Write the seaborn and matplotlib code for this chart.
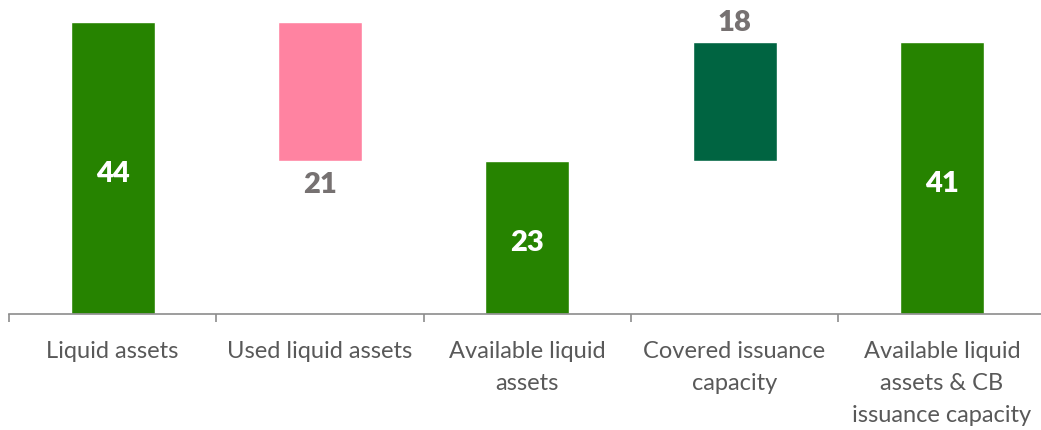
import matplotlib
matplotlib.use("Agg")
import matplotlib.pyplot as plt
import seaborn as sns
import pandas as pd
import numpy as np

categories = ["Liquid assets", "Used liquid assets", "Available liquid\nassets",
              "Covered issuance\ncapacity", "Available liquid\nassets & CB\nissuance capacity"]
values = [44, -21, 23, 18, 41]
kinds = ["total", "delta", "total", "delta", "total"]
bar_colors = ["#268300", "#FF83A1", "#268300", "#006441", "#268300"]
label_colors = ["white", "#767171", "white", "#767171", "white"]
label_pos = ["mid", "below", "mid", "above", "mid"]

# waterfall bases/tops
bases, tops = [], []
running = 0
for v, k in zip(values, kinds):
    if k == "total":
        b, t = 0, v
        running = v
    else:
        b, t = min(running, running + v), max(running, running + v)
        running += v
    bases.append(b)
    tops.append(t)

df = pd.DataFrame({"category": categories, "top": tops, "base": bases})

sns.set_theme(style="white")
plt.rcParams["font.family"] = ["Lato", "DejaVu Sans"]

fig = plt.figure(figsize=(10.41, 4.31), dpi=100)
W, H = 1041, 431
x0, x1 = 9, 1045.5
y_axis = 315
ylim_top = 47
px_per_unit = (315 - 23) / 44
ax = fig.add_axes([x0 / W, (H - y_axis) / H, (x1 - x0) / W, ylim_top * px_per_unit / H])

sns.barplot(data=df, x="category", y="top", hue="category", palette=bar_colors,
            width=0.405, legend=False, ax=ax, saturation=1)
sns.barplot(data=df, x="category", y="base", color="white", width=0.42,
            ax=ax, saturation=1)

ax.set_xlim(-0.5, 4.5)
ax.set_ylim(0, ylim_top)
ax.set_xlabel("")
ax.set_ylabel("")
ax.set_yticks([])
for s in ["top", "right", "left"]:
    ax.spines[s].set_visible(False)
ax.spines["bottom"].set_color("#8c8c8c")
ax.spines["bottom"].set_linewidth(1.2)

ax.set_xticks(range(len(categories)))
ax.set_xticklabels(categories, fontsize=17, color="#595959", linespacing=1.65, va="top")
ax.set_xticks(np.arange(-0.5, len(categories), 1.0), minor=True)
ax.tick_params(axis="x", which="major", length=0, pad=19)
ax.tick_params(axis="x", which="minor", length=6, width=1.2, color="#8c8c8c", bottom=True)

for i, (b, t, v) in enumerate(zip(bases, tops, values)):
    txt = f"{abs(v)}"
    if label_pos[i] == "mid":
        y, va = (b + t) / 2 - 0.7, "center"
    elif label_pos[i] == "below":
        y, va = b - 1.5, "top"
    else:
        y, va = t + 1.0, "bottom"
    ax.text(i, y, txt, ha="center", va=va, fontsize=21, fontweight="heavy",
            color=label_colors[i])

fig.savefig("out.png", dpi=100)
